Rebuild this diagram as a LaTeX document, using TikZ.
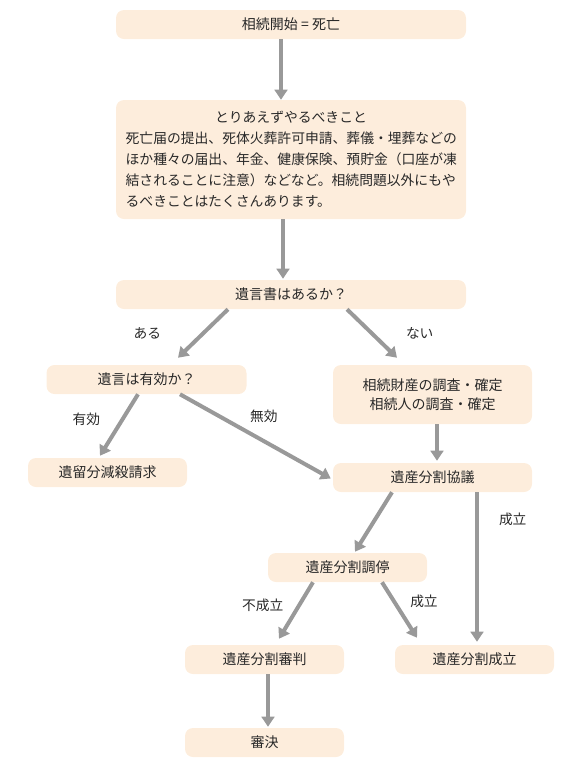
\documentclass[tikz,border=0pt]{standalone}
\usepackage{fontspec}
\newfontfamily\jp{Noto Sans CJK JP}
\usepackage{tikz}
\usetikzlibrary{arrows.meta,positioning,calc}
\definecolor{boxfill}{RGB}{253,237,220}
\definecolor{arrgray}{RGB}{153,153,153}
\definecolor{txt}{RGB}{40,40,40}

\begin{document}
\begin{tikzpicture}[
    x=0.75pt, y=-0.75pt,
    box/.style={fill=boxfill, rounded corners=6pt, inner sep=0pt, minimum height=21.75pt, align=center, text=txt, font=\jp\fontsize{10.5}{14.25}\selectfont},
    arr/.style={-{Triangle[length=7.5pt,width=9.5pt]}, line width=3pt, arrgray},
    lbl/.style={inner sep=0pt, text=txt, font=\jp\fontsize{10.3}{12}\selectfont}
]
\useasboundingbox (0,0) rectangle (573,776);
\node[box, minimum width=262.5pt] (start) at (291,24.5) {相続開始 = 死亡};
\node[box, minimum width=262.5pt, minimum height=89.25pt, text width=248pt, align=left, font=\jp\fontsize{10.35}{15.75}\selectfont] (todo) at (291,159.5)
    {{\centering とりあえずやるべきこと\par}
     死亡届の提出、死体火葬許可申請、葬儀・埋葬などの\\
     ほか種々の届出、年金、健康保険、預貯金（口座が凍\\
     結されることに注意）などなど。相続問題以外にもや\\
     るべきことはたくさんあります。};
\node[box, minimum width=262.5pt] (will) at (291,294.5) {遺言書はあるか？};
\node[box, minimum width=150pt] (valid) at (146.5,379.5) {遺言は有効か？};
\node[box, minimum width=149.25pt, minimum height=44.25pt] (survey) at (432.5,394.5) {相続財産の調査・確定\\相続人の調査・確定};
\node[box, minimum width=119.25pt] (reserve) at (107.5,472.5) {遺留分減殺請求};
\node[box, minimum width=149.25pt] (talk) at (432.5,477.5) {遺産分割協議};
\node[box, minimum width=119.25pt] (mediate) at (347.5,567.5) {遺産分割調停};
\node[box, minimum width=119.25pt] (judge) at (264.5,659.5) {遺産分割審判};
\node[box, minimum width=119.25pt] (done) at (474.5,659.5) {遺産分割成立};
\node[box, minimum width=119.25pt] (final) at (264.5,742.5) {審決};

\draw[arr] ($(start.south)+(-10,0)$) -- ($(todo.north)+(-10,0)$);
\draw[arr] ($(todo.south)+(-8,0)$) -- ($(will.north)+(-8,-1)$);
\draw[arr] ($(will.south)+(-63,0)$) -- node[lbl, left=30pt] {ある} ($(valid.north)+(31.5,-7)$);
\draw[arr] ($(will.south)+(56,0)$) -- node[lbl, right=24pt] {ない} ($(survey.north)+(-35.5,-7)$);
\draw[arr] ($(valid.south)+(-8.5,0)$) -- node[lbl, pos=0.4, left=15.5pt] {有効} ($(reserve.north)+(-7.5,-2)$);
\draw[arr] ($(valid.south)+(33.5,0)$) -- node[lbl, pos=0.556, above=12pt] {無効} ($(talk.west)+(-2,1)$);
\draw[arr] ($(survey.south)+(4.5,0)$) -- ($(talk.north)+(4.5,-2)$);
\draw[arr] ($(talk.south)+(-40.5,0)$) -- ($(mediate.north)+(7.5,-1)$);
\draw[arr] ($(talk.south)+(44.5,0)$) -- node[lbl, pos=0.18, right=15pt] {成立} ($(done.north)+(2.5,-3)$);
\draw[arr] ($(mediate.south)+(-34.5,0)$) -- node[lbl, pos=0.4, left=10.5pt] {不成立} ($(judge.north)+(14.5,-6)$);
\draw[arr] ($(mediate.south)+(34.5,0)$) -- node[lbl, pos=0.35, right=10.5pt] {成立} ($(done.north)+(-57.5,-7)$);
\draw[arr] ($(judge.south)+(3.5,0)$) -- ($(final.north)+(3.5,-1)$);
\end{tikzpicture}
\end{document}
